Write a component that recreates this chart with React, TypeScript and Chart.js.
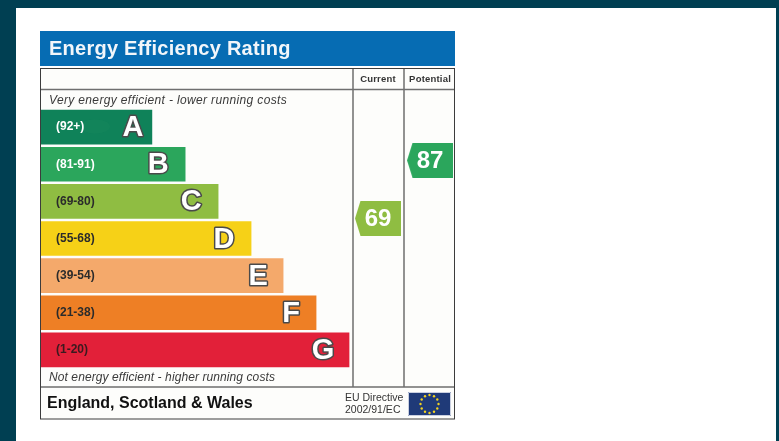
import React, { useEffect, useRef } from "react";
import { Chart, registerables } from "chart.js";

Chart.register(...registerables);

const bandLetters = ["A", "B", "C", "D", "E", "F", "G"];
const bandRanges = ["(92+)", "(81-91)", "(69-80)", "(55-68)", "(39-54)", "(21-38)", "(1-20)"];
const bandLengths = [36, 46.8, 57.5, 68.2, 78.6, 89.3, 100];
const bandColors = ["#0f8259", "#2ba65c", "#8fbd42", "#f6d117", "#f4a96b", "#ee7f25", "#e22039"];
const rangeColors = ["#ffffff", "#ffffff", "#2b2b2b", "#2b2b2b", "#2b2b2b", "#2b2b2b", "#3a1a1f"];
const letterOffsets = [19, 27, 27, 27, 25, 25, 26];
const columnNames = ["Current", "Potential"];
const columnCentres = [109.4, 126.3];
const ratingValues = [69, 87];
const ratingColors = ["#8fbd42", "#2ba65c"];

const FONT = '"Liberation Sans", Arial, sans-serif';

function makeArrow(color: string) {
  const c = document.createElement("canvas");
  c.width = 46;
  c.height = 35;
  const g = c.getContext("2d")!;
  g.fillStyle = color;
  g.beginPath();
  g.moveTo(0, 17.5);
  g.lineTo(5.5, 0);
  g.lineTo(46, 0);
  g.lineTo(46, 35);
  g.lineTo(5.5, 35);
  g.closePath();
  g.fill();
  return c;
}

function text(
  ctx: CanvasRenderingContext2D,
  s: string,
  x: number,
  y: number,
  font: string,
  color: string,
  align: CanvasTextAlign = "left",
  spacing = "0px"
) {
  ctx.font = font;
  ctx.fillStyle = color;
  ctx.textAlign = align;
  ctx.textBaseline = "middle";
  (ctx as any).letterSpacing = spacing;
  ctx.fillText(s, x, y);
  (ctx as any).letterSpacing = "0px";
}

const backdrop = {
  id: "backdrop",
  beforeDraw(chart: any) {
    const ctx: CanvasRenderingContext2D = chart.ctx;
    ctx.save();
    ctx.fillStyle = "#003f52";
    ctx.fillRect(0, 0, 779, 441);
    ctx.fillStyle = "#ffffff";
    ctx.fillRect(16, 8, 760, 433);
    ctx.fillStyle = "#fdfdfb";
    ctx.fillRect(41, 68, 413, 351);
    ctx.fillStyle = "#066cb3";
    ctx.fillRect(40, 31, 415, 35);

    ctx.strokeStyle = "#6f6f6f";
    ctx.lineWidth = 1.5;
    ctx.beginPath();
    ctx.moveTo(41, 89.5);
    ctx.lineTo(454, 89.5);
    ctx.moveTo(41, 387);
    ctx.lineTo(454, 387);
    ctx.moveTo(353, 68);
    ctx.lineTo(353, 387);
    ctx.moveTo(404, 68);
    ctx.lineTo(404, 387);
    ctx.stroke();
    ctx.strokeStyle = "#3c3c3c";
    ctx.lineWidth = 1;
    ctx.strokeRect(40.5, 68.5, 414, 350.5);
    ctx.restore();
  },
};

const annotations = {
  id: "annotations",
  afterDatasetsDraw(chart: any) {
    const ctx: CanvasRenderingContext2D = chart.ctx;
    ctx.save();
    text(ctx, "Energy Efficiency Rating", 49, 49.5, `bold 20px ${FONT}`, "#f2f6fa", "left", "0.25px");
    text(ctx, "Very energy efficient - lower running costs", 49, 101, `italic 12px ${FONT}`, "#3a3a3a", "left", "0.35px");
    text(ctx, "Not energy efficient - higher running costs", 49, 377.5, `italic 12px ${FONT}`, "#3a3a3a", "left", "0.09px");
    text(ctx, "England, Scotland & Wales", 47, 403.5, `bold 16px ${FONT}`, "#111111", "left");
    text(ctx, "EU Directive", 345, 398, `10.5px ${FONT}`, "#333333");
    text(ctx, "2002/91/EC", 345, 410.5, `10.5px ${FONT}`, "#333333");

    // band letters, anchored on the end of each bar
    const bars = chart.getDatasetMeta(0).data;

    // faint arrow smudge inside band A
    const a = bars[0];
    ctx.fillStyle = "rgba(40,150,100,0.15)";
    ctx.beginPath();
    ctx.ellipse(a.x - 57, a.y - 0.5, 15, 7, 0, 0, Math.PI * 2);
    ctx.fill();

    bars.forEach((bar: any, i: number) => {
      const x = bar.x - letterOffsets[i];
      ctx.font = `bold 29px ${FONT}`;
      ctx.textAlign = "center";
      ctx.textBaseline = "middle";
      ctx.lineJoin = "round";
      ctx.lineWidth = 3;
      ctx.strokeStyle = "#4a4a4a";
      ctx.strokeText(bandLetters[i], x, bar.y + 1);
      ctx.fillStyle = "#ffffff";
      ctx.fillText(bandLetters[i], x, bar.y + 1);
    });

    // column headings and rating numbers, anchored on the rating points
    const points = chart.getDatasetMeta(1).data;
    points.forEach((p: any, i: number) => {
      text(ctx, columnNames[i], p.x, 79.5, `bold 9.5px ${FONT}`, "#333333", "center", "0.2px");
      text(ctx, String(ratingValues[i]), p.x, p.y + 1, `bold 24px ${FONT}`, "#ffffff", "center");
    });

    // EU flag
    const fx = 408, fy = 392, fw = 43, fh = 24;
    ctx.fillStyle = "#1f3a78";
    ctx.fillRect(fx, fy, fw, fh);
    ctx.strokeStyle = "#c9cfe0";
    ctx.lineWidth = 1;
    ctx.strokeRect(fx + 0.5, fy + 0.5, fw - 1, fh - 1);
    ctx.fillStyle = "#f2d21f";
    for (let s = 0; s < 12; s++) {
      const t = (s / 12) * Math.PI * 2;
      ctx.beginPath();
      ctx.arc(fx + fw / 2 + Math.cos(t) * 9, fy + fh / 2 + Math.sin(t) * 9, 1.2, 0, Math.PI * 2);
      ctx.fill();
    }
    ctx.restore();
  },
};

export default function App() {
  const ref = useRef<HTMLCanvasElement>(null);
  useEffect(() => {
    const chart = new Chart(ref.current!, {
      data: {
        labels: bandRanges,
        datasets: [
          {
            type: "bar",
            indexAxis: "y",
            data: bandLengths,
            backgroundColor: bandColors,
            barThickness: 34,
            xAxisID: "x",
            yAxisID: "y",
          },
          {
            type: "scatter",
            data: ratingValues.map((v, i) => ({ x: columnCentres[i], y: v })),
            pointStyle: ratingColors.map(makeArrow),
            xAxisID: "x",
            yAxisID: "yRating",
          },
        ],
      } as any,
      options: {
        animation: false,
        responsive: false,
        devicePixelRatio: 1,
        layout: { padding: { left: 41, top: 108.5, right: 324, bottom: 72.5 } },
        plugins: { legend: { display: false }, tooltip: { enabled: false }, title: { display: false } },
        scales: {
          x: { type: "linear", display: false, min: 0, max: 134.4 },
          y: {
            type: "category",
            position: "left",
            offset: true,
            afterFit: (s: any) => {
              s.width = 0;
            },
            grid: { display: false, drawTicks: false, offset: true },
            border: { display: false },
            ticks: {
              z: 1,
              mirror: true,
              padding: 15,
              font: { family: "Liberation Sans", size: 12, weight: "bold" },
              color: (c: any) => rangeColors[c.index],
            },
          },
          yRating: { type: "linear", display: false, min: 22.4, max: 103.1 },
        },
      } as any,
      plugins: [backdrop, annotations],
    });
    return () => chart.destroy();
  }, []);
  return <canvas ref={ref} width={779} height={441} style={{ position: "fixed", left: 0, top: 0, display: "block" }} />;
}
